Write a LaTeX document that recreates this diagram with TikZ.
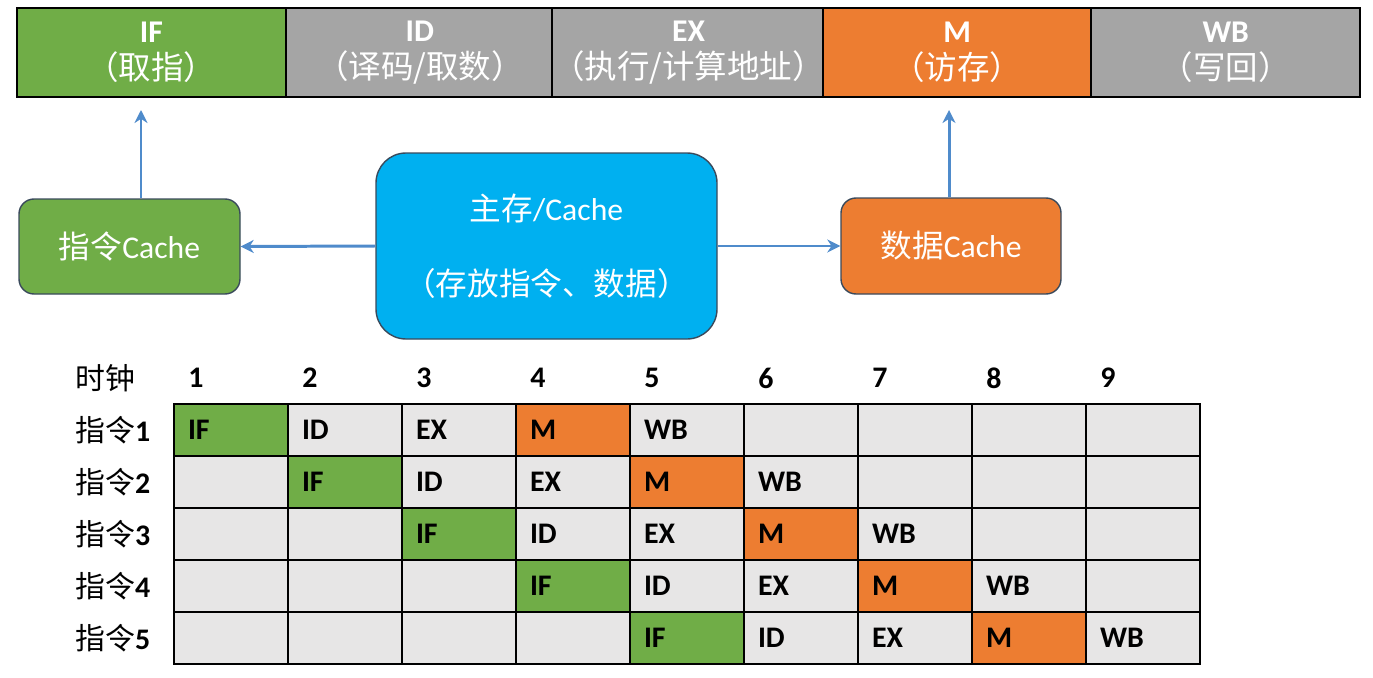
\documentclass[tikz,border=0pt]{standalone}
\usepackage{fontspec}
\setmainfont{Carlito}
\newfontfamily\cjk{Noto Sans CJK SC}
\usetikzlibrary{arrows.meta}
\definecolor{stgreen}{HTML}{70AD47}
\definecolor{storange}{HTML}{ED7D31}
\definecolor{stgrey}{HTML}{A5A5A5}
\definecolor{cellgrey}{HTML}{E7E6E6}
\definecolor{memblue}{HTML}{00B0F0}
\definecolor{arrowblue}{HTML}{4F8BCB}
\definecolor{boxline}{HTML}{3A4A5C}
\begin{document}
\begin{tikzpicture}[
  stage/.style={rectangle, draw=black, line width=1.2pt, minimum width=5.372cm, minimum height=1.78cm, text=white, align=center, inner sep=0pt, font=\fontsize{18}{20}\selectfont},
  cachebox/.style={rectangle, rounded corners=0.3cm, draw=boxline, line width=0.8pt, text=white, align=center, font=\fontsize{18}{22}\selectfont},
  arr/.style={arrowblue, line width=1.7pt, -{Stealth[length=2.6mm,width=2.6mm]}},
  cell/.style={rectangle, draw=black, line width=1pt, fill=cellgrey, minimum height=1.04cm, text width=1.72cm, inner xsep=0.28cm, align=left, font=\bfseries\fontsize{17}{20}\selectfont},
  lab/.style={anchor=west, inner sep=0pt, font=\bfseries\fontsize{17}{20}\selectfont}]
\useasboundingbox (0,0) rectangle (27.46,-13.54);
\def\W{5.372}
\def\sname#1#2{{\bfseries #1}\\[1pt]{\cjk\fontsize{18.5}{20}\selectfont #2}}
% pipeline stages
\node[stage, fill=stgreen] (if) at (0.34+0.5*\W,-1.05) {\sname{IF}{（取指）}};
\node[stage, fill=stgrey] (id) at (0.34+1.5*\W,-1.05) {\sname{ID}{（译码/取数）}};
\node[stage, fill=stgrey] (ex) at (0.34+2.5*\W,-1.05) {\sname{EX}{（执行/计算地址）}};
\node[stage, fill=storange] (mem4) at (0.34+3.5*\W,-1.05) {\sname{M}{（访存）}};
\node[stage, fill=stgrey] (wb) at (0.34+4.5*\W,-1.05) {\sname{WB}{（写回）}};
% caches and memory
\node[cachebox, fill=stgreen, minimum width=4.42cm, minimum height=1.9cm] (icache) at (2.59,-4.93) {{\cjk 指令}Cache};
\node[cachebox, fill=memblue, rounded corners=0.6cm, minimum width=6.82cm, minimum height=3.72cm] (mem) at (10.93,-4.92) {{\cjk 主存}/Cache\\[20.7pt]{\cjk （存放指令、数据）}};
\node[cachebox, fill=storange, minimum width=4.4cm, minimum height=1.92cm] (dcache) at (19.02,-4.92) {{\cjk 数据}Cache};
\coordinate (ifin) at (2.82,-2.2);
\coordinate (min) at (18.98,-2.2);
\draw[arr] (icache.north -| ifin) -- (ifin);
\draw[arr] (dcache.north -| min) -- (min);
\draw[arr] (mem.west) -- (icache.east);
\draw[arr] (mem.east) -- (dcache.west);
% timing table
\node[lab, font=\cjk\fontsize{17}{20}\selectfont] (clk) at (1.5,-7.56) {时钟};
\foreach \c in {1,...,9}
  \node[lab] (n\c) at (3.76+2.28*\c-2.28,-7.56) {\c};
\foreach \r in {1,...,5} {
  \node[lab] (ins\r) at (1.5,-8.6-1.04*\r+1.04) {{\cjk\mdseries 指令}\r};
  \foreach \c in {1,...,9}
    \node[cell] (g\r\c) at (4.62+2.28*\c-2.28,-8.6-1.04*\r+1.04) {};
  \foreach \s/\t/\f in {0/IF/stgreen,1/ID/cellgrey,2/EX/cellgrey,3/M/storange,4/WB/cellgrey}
    \node[cell, fill=\f] (st\r\s) at (4.62+2.28*\r+2.28*\s-2.28,-8.6-1.04*\r+1.04) {\t};
}
\end{tikzpicture}
\end{document}
